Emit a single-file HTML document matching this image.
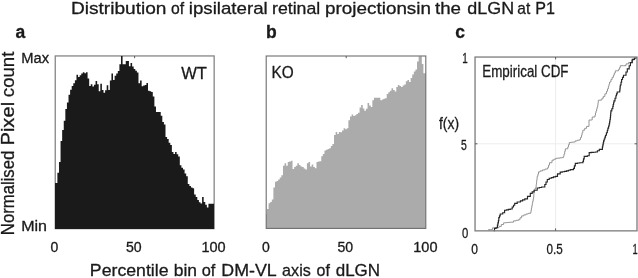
<!DOCTYPE html>
<html lang="en"><head><meta charset="utf-8"><title>Distribution of ipsilateral retinal projections</title>
<style>html,body{margin:0;padding:0;background:#fff}body{width:638px;height:278px;overflow:hidden}svg{display:block}text{stroke:#1a1a1a;stroke-width:.3px;stroke-linejoin:round}</style></head>
<body>
<svg width="638" height="278" viewBox="0 0 638 278" font-family="'Liberation Sans', sans-serif" fill="#1a1a1a">
<rect width="638" height="278" fill="#fff"/>
<text y="13.8" font-size="17"><tspan x="70.93" textLength="95.59" lengthAdjust="spacingAndGlyphs">Distribution</tspan> <tspan x="170.94" textLength="13.13" lengthAdjust="spacingAndGlyphs">of</tspan> <tspan x="188.77" textLength="78.97" lengthAdjust="spacingAndGlyphs">ipsilateral</tspan> <tspan x="272.03" textLength="48.25" lengthAdjust="spacingAndGlyphs">retinal</tspan> <tspan x="325.09" textLength="105.92" lengthAdjust="spacingAndGlyphs">projectionsin</tspan> <tspan x="435.02" textLength="26.01" lengthAdjust="spacingAndGlyphs">the</tspan> <tspan x="467.35" textLength="46.81" lengthAdjust="spacingAndGlyphs">dLGN</tspan> <tspan x="517.35" textLength="12.96" lengthAdjust="spacingAndGlyphs">at</tspan> <tspan x="535.18" textLength="19.70" lengthAdjust="spacingAndGlyphs">P1</tspan></text>
<text x="15.5" y="37.6" font-size="17.5" font-weight="bold">a</text>
<text x="266" y="37.6" font-size="17.5" font-weight="bold">b</text>
<text x="455.3" y="37.6" font-size="17.5" font-weight="bold">c</text>
<g transform="translate(14.3,0) rotate(-90)"><text y="0" font-size="17.5"><tspan x="-235.17" textLength="84.44" lengthAdjust="spacingAndGlyphs">Normalised</tspan> <tspan x="-145.55" textLength="43.69" lengthAdjust="spacingAndGlyphs">Pixel</tspan> <tspan x="-97.18" textLength="45.52" lengthAdjust="spacingAndGlyphs">count</tspan></text></g>
<text x="21.3" y="62.5" font-size="14" textLength="27.8" lengthAdjust="spacingAndGlyphs">Max</text>
<text x="21.2" y="230.7" font-size="14" textLength="25.8" lengthAdjust="spacingAndGlyphs">Min</text>
<rect x="55.25" y="55.95" width="158.9" height="172.7" fill="none" stroke="#858585" stroke-width="1.3"/>
<path d="M55.00,228.90V183.0H55.80V183.0H57.38V172.7H58.98V162.0H60.56V140.9H62.16V130.1H63.75V120.8H65.34V109.1H66.92V102.6H68.52V94.7H70.11V89.7H71.69V86.0H73.28V83.2H74.88V80.3H76.47V74.7H78.06V77.0H79.64V75.2H81.23V73.6H82.83V72.3H84.42V73.3H86.00V72.3H87.59V78.6H89.19V86.1H90.78V84.2H92.37V86.6H93.96V84.7H95.55V80.9H97.14V84.2H98.72V91.3H100.31V83.8H101.91V89.9H103.50V92.7H105.09V90.3H106.68V85.2H108.27V89.9H109.86V80.5H111.44V73.4H113.03V80.0H114.62V75.8H116.22V73.4H117.81V70.9H119.40V64.3H120.98V56.0H122.58V64.3H124.17V64.3H125.76V61.0H127.34V61.0H128.94V66.2H130.53V63.0H132.12V66.4H133.70V69.0H135.30V70.7H136.88V72.5H138.48V83.3H140.06V80.5H141.66V86.2H143.25V85.6H144.84V85.0H146.43V83.0H148.01V90.7H149.61V91.3H151.19V92.0H152.79V96.4H154.38V106.4H155.97V112.0H157.56V112.0H159.15V112.0H160.74V115.7H162.32V122.0H163.92V124.5H165.50V137.0H167.09V139.0H168.69V142.7H170.28V145.0H171.87V152.0H173.46V154.0H175.05V152.0H176.63V154.2H178.23V156.4H179.81V165.2H181.41V167.8H183.00V169.6H184.59V173.4H186.18V176.3H187.77V183.9H189.36V186.0H190.94V187.6H192.53V188.3H194.12V194.6H195.72V196.9H197.31V200.0H198.90V202.3H200.49V203.4H202.08V197.0H203.67V202.0H205.25V204.7H206.84V207.6H208.44V203.8H210.03V203.8H211.62V203.8H213.21V203.8H214.00V228.90Z" fill="#1a1a1a"/>
<path d="M134.6,56v2.2" stroke="#5a5a5a" stroke-width="1"/>
<text x="181.2" y="79.4" font-size="16.8" textLength="25.8" lengthAdjust="spacingAndGlyphs">WT</text>
<text x="54.5" y="252" font-size="14" text-anchor="middle">0</text>
<text x="126" y="252" font-size="14" textLength="15.7" lengthAdjust="spacingAndGlyphs">50</text>
<text x="201.4" y="252" font-size="14" textLength="24.2" lengthAdjust="spacingAndGlyphs">100</text>
<path d="M266.20,228.60V214.0H267.00V209.0H268.59V203.3H270.19V201.9H271.79V199.5H273.38V187.6H274.98V181.7H276.57V181.1H278.17V179.6H279.77V177.4H281.36V175.2H282.96V165.7H284.55V163.2H286.15V165.7H287.75V162.0H289.34V161.4H290.94V160.7H292.53V168.9H294.13V167.1H295.73V165.7H297.32V163.2H298.92V165.0H300.51V166.4H302.11V167.0H303.71V168.5H305.30V169.5H306.90V163.2H308.49V162.0H310.09V166.4H311.69V164.5H313.28V167.1H314.88V168.3H316.47V162.0H318.07V161.6H319.67V161.3H321.26V156.3H322.86V154.0H324.45V150.5H326.05V149.8H327.65V149.1H329.24V148.3H330.84V145.9H332.43V143.9H334.03V135.0H335.63V132.0H337.22V134.0H338.82V132.0H340.41V132.3H342.01V130.6H343.61V128.2H345.20V129.2H346.80V128.2H348.39V120.2H349.99V116.5H351.59V114.6H353.18V116.0H354.78V115.2H356.37V114.1H357.97V112.7H359.57V107.6H361.16V105.0H362.76V108.5H364.35V110.8H365.95V108.8H367.55V103.1H369.14V105.4H370.74V107.0H372.33V100.2H373.93V97.7H375.53V97.7H377.12V97.7H378.72V97.7H380.31V100.2H381.91V99.6H383.51V98.8H385.10V98.3H386.70V93.9H388.29V92.2H389.89V90.7H391.49V88.2H393.08V90.0H394.68V91.4H396.27V87.0H397.87V85.0H399.47V86.1H401.06V87.0H402.66V85.5H404.25V84.4H405.85V81.3H407.45V80.0H409.04V82.0H410.64V78.0H412.23V74.6H413.83V71.5H415.43V69.6H417.02V61.4H418.62V56.3H420.21V56.3H421.81V64.0H423.41V73.3H425.00V73.3H425.80V228.60Z" fill="#ababab"/>
<rect x="266.2" y="56" width="159.6" height="172.4" fill="none" stroke="#6e6e6e" stroke-width="1.1"/>
<path d="M346.2,56v2.2" stroke="#5a5a5a" stroke-width="1"/>
<text x="271.4" y="78.2" font-size="16.5" textLength="22.2" lengthAdjust="spacingAndGlyphs">KO</text>
<text x="266" y="252" font-size="14" text-anchor="middle">0</text>
<text x="337.4" y="252" font-size="14" textLength="15.7" lengthAdjust="spacingAndGlyphs">50</text>
<text x="413.3" y="252" font-size="14" textLength="24.2" lengthAdjust="spacingAndGlyphs">100</text>
<text y="276.4" font-size="17"><tspan x="89.85" textLength="78.73" lengthAdjust="spacingAndGlyphs">Percentile</tspan> <tspan x="173.68" textLength="23.35" lengthAdjust="spacingAndGlyphs">bin</tspan> <tspan x="201.71" textLength="13.65" lengthAdjust="spacingAndGlyphs">of</tspan> <tspan x="221.25" textLength="54.83" lengthAdjust="spacingAndGlyphs">DM-VL</tspan> <tspan x="282.12" textLength="28.66" lengthAdjust="spacingAndGlyphs">axis</tspan> <tspan x="316.53" textLength="13.34" lengthAdjust="spacingAndGlyphs">of</tspan> <tspan x="335.69" textLength="44.40" lengthAdjust="spacingAndGlyphs">dLGN</tspan></text>
<path d="M555.6,57V230.8M475,143.8H637" stroke="#ededed" stroke-width="1" fill="none"/>
<polyline points="488.3,230.2 488.6,230.2 488.6,229.6 490.3,229.6 490.3,229.6 492.0,229.6 492.0,229.5 492.5,229.5 492.5,227.8 494.8,227.8 494.8,227.8 497.1,227.8 497.1,227.7 499.0,227.7 499.0,226.4 501.3,226.4 501.3,224.5 503.6,224.5 503.6,222.8 505.8,222.8 505.8,222.6 508.1,222.6 508.1,222.4 510.3,222.4 510.3,222.2 513.5,222.2 513.5,220.9 516.0,220.9 516.0,220.3 518.5,220.3 518.5,219.7 520.0,219.7 520.0,217.8 521.6,217.8 521.6,215.9 523.8,215.9 523.8,214.9 526.0,214.9 526.0,214.0 528.2,214.0 528.2,213.3 530.5,213.3 530.5,212.7 531.0,212.7 531.0,210.3 531.4,210.3 531.4,208.0 531.8,208.0 531.8,205.7 532.3,205.7 532.3,203.3 532.7,203.3 532.7,201.2 533.2,201.2 533.2,199.1 533.6,199.1 533.6,197.0 533.8,197.0 533.8,194.7 533.9,194.7 533.9,192.5 534.1,192.5 534.1,190.2 535.0,190.2 535.0,188.3 536.0,188.3 536.0,186.4 536.2,186.4 536.2,184.4 536.5,184.4 536.5,182.4 536.7,182.4 536.7,180.3 537.0,180.3 537.0,178.3 537.2,178.3 537.2,176.3 537.9,176.3 537.9,174.1 538.5,174.1 538.5,171.9 540.1,171.9 540.1,170.9 542.6,170.9 542.6,169.9 545.1,169.9 545.1,169.0 547.6,169.0 547.6,167.7 548.5,167.7 548.5,165.2 549.5,165.2 549.5,162.7 552.0,162.7 552.0,160.2 553.9,160.2 553.9,159.2 555.8,159.2 555.8,158.3 557.9,158.3 557.9,158.1 560.0,158.1 560.0,157.8 562.1,157.8 562.1,157.6 563.4,157.6 563.4,156.4 564.0,156.4 564.0,153.9 564.7,153.9 564.7,151.3 565.3,151.3 565.3,148.8 567.8,148.8 567.8,146.9 568.5,146.9 568.5,144.7 569.3,144.7 569.3,142.5 571.3,142.5 571.3,142.2 573.3,142.2 573.3,142.0 575.2,142.0 575.2,140.9 577.4,140.9 577.4,140.2 579.6,140.2 579.6,139.6 580.5,139.6 580.5,137.4 581.5,137.4 581.5,135.2 582.1,135.2 582.1,132.7 582.8,132.7 582.8,130.2 584.7,130.2 584.7,128.3 586.6,128.3 586.6,126.4 589.0,126.4 589.0,123.2 589.0,123.2 589.0,120.0 592.2,120.0 592.2,117.0 595.0,117.0 595.0,115.0 595.5,115.0 595.5,113.0 596.0,113.0 596.0,111.0 596.6,111.0 596.6,109.1 597.1,109.1 597.1,107.1 597.7,107.1 597.7,105.2 598.0,105.2 598.0,102.7 598.3,102.7 598.3,100.2 600.8,100.2 600.8,99.9 602.0,99.9 602.0,98.2 603.3,98.2 603.3,96.4 604.9,96.4 604.9,93.8 606.5,93.8 606.5,91.3 607.5,91.3 607.5,88.8 608.4,88.8 608.4,86.3 609.0,86.3 609.0,84.2 609.6,84.2 609.6,82.0 610.9,82.0 610.9,79.6 612.1,79.6 612.1,77.4 613.4,77.4 613.4,75.2 614.3,75.2 614.3,73.0 615.3,73.0 615.3,70.8 618.5,70.8 618.5,69.5 619.4,69.5 619.4,67.6 620.3,67.6 620.3,65.7 623.5,65.7 623.5,65.7 626.0,65.7 626.0,63.9 628.5,63.9 628.5,62.6 631.7,62.6 631.7,60.0 634.2,60.0 634.2,58.2 636.5,58.2 636.5,57.3" fill="none" stroke="#8a8a8a" stroke-width="0.9" stroke-linejoin="miter"/>
<polyline points="493.6,230.6 494.5,230.6 494.5,228.4 496.1,228.4 496.1,227.7 497.4,227.7 497.4,225.1 497.9,225.1 497.9,222.8 498.4,222.8 498.4,220.6 498.8,220.6 498.8,217.6 499.5,217.6 499.5,215.8 500.2,215.8 500.2,214.0 502.7,214.0 502.7,212.7 504.6,212.7 504.6,210.2 506.5,210.2 506.5,209.8 508.4,209.8 508.4,209.4 510.3,209.4 510.3,209.0 512.2,209.0 512.2,207.0 513.5,207.0 513.5,205.2 514.7,205.2 514.7,203.3 517.2,203.3 517.2,202.0 520.4,202.0 520.4,200.8 522.6,200.8 522.6,199.9 524.8,199.9 524.8,198.9 527.5,198.9 527.5,196.3 530.3,196.3 530.3,193.3 532.2,193.3 532.2,191.8 534.1,191.8 534.1,190.2 537.2,190.2 537.2,188.0 539.4,188.0 539.4,187.5 541.6,187.5 541.6,187.0 544.8,187.0 544.8,184.5 546.0,184.5 546.0,182.0 547.3,182.0 547.3,179.5 549.2,179.5 549.2,178.2 551.3,178.2 551.3,177.6 553.4,177.6 553.4,176.9 555.5,176.9 555.5,176.3 557.5,176.3 557.5,173.9 560.2,173.9 560.2,172.1 562.3,172.1 562.3,171.7 564.4,171.7 564.4,171.3 566.5,171.3 566.5,170.9 568.4,170.9 568.4,170.2 570.3,170.2 570.3,169.6 573.5,169.6 573.5,168.3 574.4,168.3 574.4,165.8 575.3,165.8 575.3,163.3 577.5,163.3 577.5,163.0 579.7,163.0 579.7,162.7 582.9,162.7 582.9,161.4 583.5,161.4 583.5,158.9 584.2,158.9 584.2,156.4 587.3,156.4 587.3,155.7 589.2,155.7 589.2,152.6 591.3,152.6 591.3,152.4 593.4,152.4 593.4,152.2 595.5,152.2 595.5,152.0 597.4,152.0 597.4,150.7 599.3,150.7 599.3,149.4 602.4,149.4 602.4,146.9 602.8,146.9 602.8,144.9 603.2,144.9 603.2,142.9 603.6,142.9 603.6,140.9 604.2,140.9 604.2,139.0 604.9,139.0 604.9,137.1 605.5,137.1 605.5,135.2 606.4,135.2 606.4,132.7 607.3,132.7 607.3,130.2 607.9,130.2 607.9,128.1 608.6,128.1 608.6,126.0 609.2,126.0 609.2,123.9 609.6,123.9 609.6,121.8 609.9,121.8 609.9,119.7 610.3,119.7 610.3,117.6 610.5,117.6 610.5,115.4 610.7,115.4 610.7,113.1 610.9,113.1 610.9,110.9 611.8,110.9 611.8,108.7 612.8,108.7 612.8,106.4 613.2,106.4 613.2,104.5 613.6,104.5 613.6,102.7 614.0,102.7 614.0,100.8 615.0,100.8 615.0,98.2 615.9,98.2 615.9,95.7 616.5,95.7 616.5,93.8 617.2,93.8 617.2,92.0 619.7,92.0 619.7,90.7 619.9,90.7 619.9,88.8 620.1,88.8 620.1,86.9 620.3,86.9 620.3,85.0 621.0,85.0 621.0,82.2 621.6,82.2 621.6,79.5 622.5,79.5 622.5,77.3 623.5,77.3 623.5,75.2 626.0,75.2 626.0,72.0 627.3,72.0 627.3,68.9 629.2,68.9 629.2,65.7 630.4,65.7 630.4,62.6 632.3,62.6 632.3,59.4 634.5,59.4 634.5,58.0 636.5,58.0 636.5,57.3" fill="none" stroke="#262626" stroke-width="1.15" stroke-linejoin="miter"/>
<rect x="475.05" y="57.05" width="161.95" height="173.8" fill="none" stroke="#808080" stroke-width="1.35"/>
<path d="M555.6,230.8v-2.4M555.6,57v2.4M475,143.8h2.4M637,143.8h-2.4" stroke="#5a5a5a" stroke-width="1" fill="none"/>
<text x="482.3" y="77.2" font-size="16.5" textLength="86.2" lengthAdjust="spacingAndGlyphs">Empirical CDF</text>
<text x="439" y="128.9" font-size="16" textLength="20" lengthAdjust="spacingAndGlyphs">f(x)</text>
<text x="462.2" y="63.3" font-size="14" textLength="5.5" lengthAdjust="spacingAndGlyphs">1</text>
<text x="461" y="150.3" font-size="14" textLength="5.8" lengthAdjust="spacingAndGlyphs">5</text>
<text x="462" y="237.7" font-size="14" textLength="6.3" lengthAdjust="spacingAndGlyphs">0</text>
<text x="471.2" y="254.3" font-size="14" textLength="6.7" lengthAdjust="spacingAndGlyphs">0</text>
<text x="546.5" y="254.3" font-size="14" textLength="16.2" lengthAdjust="spacingAndGlyphs">0.5</text>
<text x="632.6" y="254.3" font-size="14" textLength="5.2" lengthAdjust="spacingAndGlyphs">1</text>
</svg>
</body></html>
